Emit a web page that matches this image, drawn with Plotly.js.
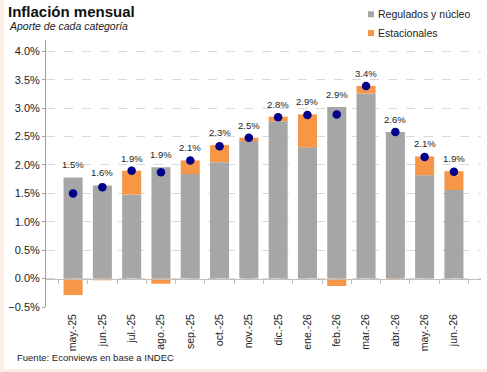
<!DOCTYPE html>
<html>
<head>
<meta charset="utf-8">
<script src="https://cdn.plot.ly/plotly-3.0.1.min.js"></script>
<style>
html,body{margin:0;padding:0;background:#fbeee4;width:487px;height:372px;overflow:hidden;}
#chart{position:absolute;left:4px;top:0;width:483px;height:369px;background:#fff;}
</style>
</head>
<body>
<div id="chart"></div>
<script>
const months = ['may.-25','jun.-25','jul.-25','ago.-25','sep.-25','oct.-25','nov.-25','dic.-25','ene.-26','feb.-26','mar.-26','abr.-26','may.-26','jun.-26'];
const regulados = [1.78,1.64,1.48,1.96,1.84,2.05,2.42,2.77,2.31,3.02,3.26,2.58,1.82,1.56];
const estacionales = [-0.29,-0.03,0.42,-0.09,0.24,0.30,0.06,0.08,0.58,-0.13,0.13,-0.01,0.33,0.33];
const total = [1.50,1.61,1.90,1.87,2.08,2.33,2.48,2.84,2.88,2.89,3.39,2.58,2.14,1.88];
const seriesNames = ['Regulados y núcleo','Estacionales'];

const gray = '#a6a6a6', orange = '#f79646', navy = '#00008b';
const font = 'Liberation Sans, Arial, sans-serif';

const labelY = months.map((m,i)=>Math.max(regulados[i] + Math.max(estacionales[i],0), total[i]));
const labelText = total.map(v=>v.toFixed(1)+'%');

const traces = [
  {type:'bar', name:seriesNames[0], x:months, y:regulados, marker:{color:gray}, hoverinfo:'skip', showlegend:false},
  {type:'bar', name:seriesNames[1], x:months, y:estacionales, marker:{color:orange}, hoverinfo:'skip', showlegend:false},
  {type:'scatter', mode:'markers', name:'Total', x:months, y:total, marker:{color:navy, size:8.5}, showlegend:false, hoverinfo:'skip'},
  {type:'scatter', mode:'markers', x:months, y:months.map(()=>0), xaxis:'x2', marker:{opacity:0}, showlegend:false, hoverinfo:'skip'}
];

const labelAnnots = months.map((m,i)=>({
  x:m, y:labelY[i], xref:'x', yref:'y', text:labelText[i], showarrow:false,
  yanchor:'middle', yshift:12.5, font:{family:font, size:9.5, color:'#222'}
}));

// manual legend (paper coords)
const legColors = [gray, orange];
const legY = [1.0966, 1.0262];
const legShapes = seriesNames.map((n,i)=>({
  type:'rect', xref:'paper', yref:'paper', x0:0.7402, x1:0.7540, y0:legY[i]-0.0112, y1:legY[i]+0.0112,
  fillcolor:legColors[i], line:{width:0}
}));
const legAnnots = seriesNames.map((n,i)=>({
  xref:'paper', yref:'paper', x:0.7586, y:legY[i], xanchor:'left', yanchor:'middle', showarrow:false,
  text:n, font:{family:font, size:10.5, color:'#222'}
}));

const layout = {
  width:483, height:369,
  margin:{l:42, r:6, t:40, b:62, autoexpand:false},
  paper_bgcolor:'#fff', plot_bgcolor:'#fff',
  barmode:'relative', bargap:0.35,
  font:{family:font, size:10, color:'#222'},
  showlegend:false,
  xaxis:{type:'category', showline:false, ticks:'', tickangle:-90, showgrid:false, zeroline:false,
         tickfont:{family:font, size:10.5, color:'#222'}, ticklabelstandoff:4},
  xaxis2:{type:'category', overlaying:'x', anchor:'free', position:0.5/4.7, matches:'x',
          showline:true, linecolor:'#bfbfbf', linewidth:1, ticks:'outside', ticklen:4, tickcolor:'#bfbfbf',
          tickson:'boundaries', showticklabels:false, showgrid:false, zeroline:false},
  yaxis:{range:[-0.5,4.2], tick0:0, dtick:0.5, tickformat:'.1f', ticksuffix:'%', showline:true,
         linecolor:'#a0a0a0', linewidth:1, ticks:'outside', ticklen:3, tickcolor:'#a0a0a0',
         gridcolor:'#d9d9d9', griddash:'dash', gridwidth:1, zeroline:false,
         tickfont:{family:font, size:11, color:'#222'}},
  shapes: legShapes,
  annotations:[
    {xref:'paper', yref:'paper', x:-0.092, y:1.105, xanchor:'left', yanchor:'middle', showarrow:false,
     text:'<b>Inflación mensual</b>', font:{family:font, size:15, color:'#111'}},
    {xref:'paper', yref:'paper', x:-0.089, y:1.052, xanchor:'left', yanchor:'middle', showarrow:false,
     text:'<i>Aporte de cada categoría</i>', font:{family:font, size:10.5, color:'#222'}},
    {xref:'paper', yref:'paper', x:-0.071, y:-0.191, xanchor:'left', yanchor:'middle', showarrow:false,
     text:'Fuente: Econviews en base a INDEC', font:{family:font, size:9.5, color:'#222'}}
  ].concat(legAnnots, labelAnnots)
};

Plotly.newPlot('chart', traces, layout, {displayModeBar:false, staticPlot:true});
</script>
</body>
</html>
